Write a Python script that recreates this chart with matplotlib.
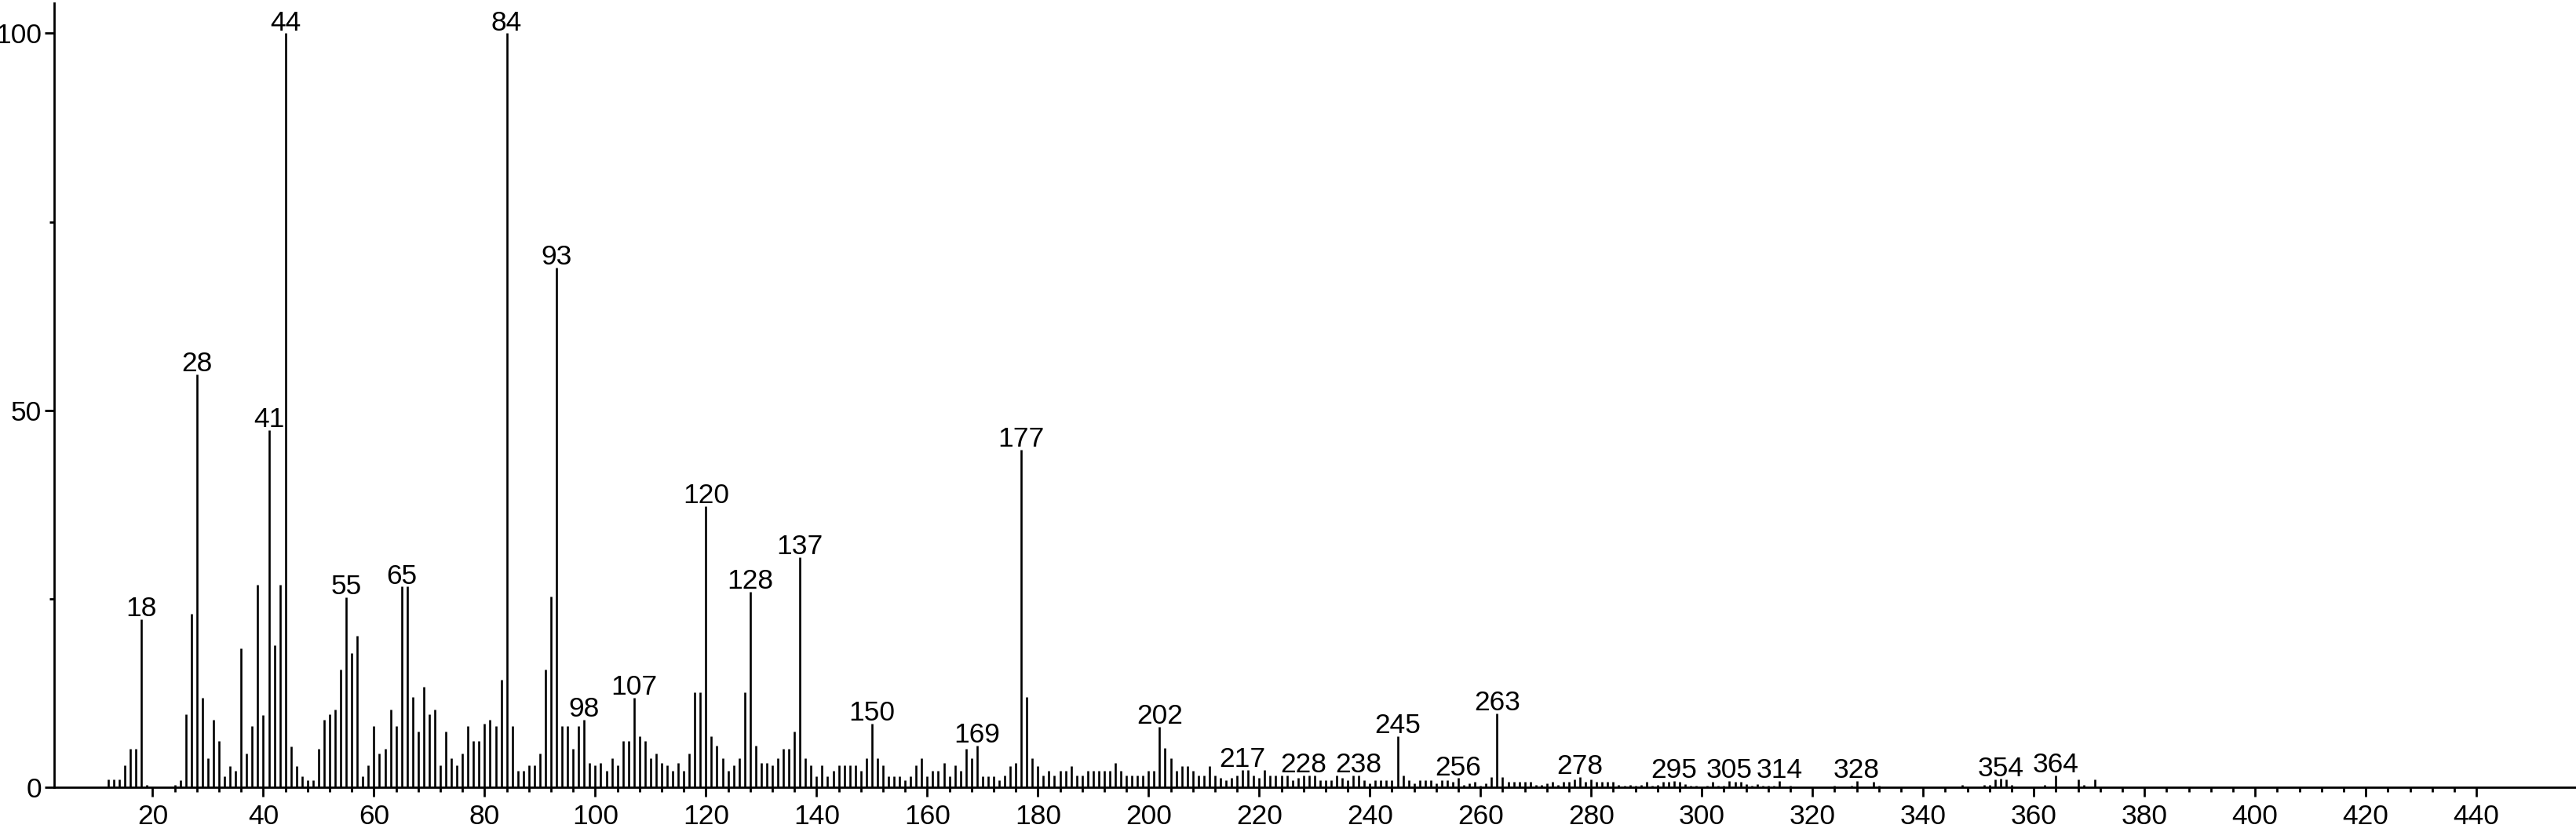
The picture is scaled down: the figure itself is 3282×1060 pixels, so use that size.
import matplotlib
matplotlib.use("Agg")
import matplotlib.pyplot as plt
from matplotlib.ticker import FixedLocator

plt.rcParams['font.family'] = ['Liberation Sans', 'DejaVu Sans']

# m/z values and relative intensities (%)
mz = [12, 13, 14, 15, 16, 17, 18, 19, 24, 25, 26, 27, 28, 29, 30, 31, 32, 33, 34, 35,
      36, 37, 38, 39, 40, 41, 42, 43, 44, 45, 46, 47, 48, 49, 50, 51, 52, 53, 54, 55,
      56, 57, 58, 59, 60, 61, 62, 63, 64, 65, 66, 67, 68, 69, 70, 71, 72, 73, 74, 75,
      76, 77, 78, 79, 80, 81, 82, 83, 84, 85, 86, 87, 88, 89, 90, 91, 92, 93, 94, 95,
      96, 97, 98, 99, 100, 101, 102, 103, 104, 105, 106, 107, 108, 109, 110, 111, 112, 113, 114, 115,
      116, 117, 118, 119, 120, 121, 122, 123, 124, 125, 126, 127, 128, 129, 130, 131, 132, 133, 134, 135,
      136, 137, 138, 139, 140, 141, 142, 143, 144, 145, 146, 147, 148, 149, 150, 151, 152, 153, 154, 155,
      156, 157, 158, 159, 160, 161, 162, 163, 164, 165, 166, 167, 168, 169, 170, 171, 172, 173, 174, 175,
      176, 177, 178, 179, 180, 181, 182, 183, 184, 185, 186, 187, 188, 189, 190, 191, 192, 193, 194, 195,
      196, 197, 198, 199, 200, 201, 202, 203, 204, 205, 206, 207, 208, 209, 210, 211, 212, 213, 214, 215,
      216, 217, 218, 219, 220, 221, 222, 223, 224, 225, 226, 227, 228, 229, 230, 231, 232, 233, 234, 235,
      236, 237, 238, 239, 240, 241, 242, 243, 244, 245, 246, 247, 248, 249, 250, 251, 252, 253, 254, 255,
      256, 257, 258, 259, 260, 261, 262, 263, 264, 265, 266, 267, 268, 269, 270, 271, 272, 273, 274, 275,
      276, 277, 278, 279, 280, 281, 282, 283, 284, 285, 286, 287, 288, 289, 290, 291, 292, 293, 294, 295,
      296, 297, 298, 299, 301, 302, 303, 304, 305, 306, 307, 308, 309, 310, 311, 312, 313, 314, 316, 324,
      327, 328, 331, 332, 347, 351, 352, 353, 354, 355, 356, 362, 364, 368, 369, 371]

intensity = [1.0, 1.0, 1.0, 2.9, 5.1, 5.1, 22.3, 0.3, 0.3, 0.9, 9.7, 23.0, 54.8, 11.9, 3.8, 9.0, 6.1, 1.5, 2.8, 2.2,
             18.4, 4.5, 8.1, 26.9, 9.6, 47.4, 18.8, 26.9, 100.0, 5.4, 2.8, 1.5, 0.9, 0.9, 5.1, 9.0, 9.7, 10.3, 15.6, 25.2,
             17.8, 20.1, 1.5, 2.9, 8.1, 4.5, 5.1, 10.3, 8.1, 26.6, 26.6, 12.0, 7.4, 13.3, 9.7, 10.3, 2.9, 7.4, 3.8, 2.9,
             4.5, 8.1, 6.1, 6.1, 8.4, 9.0, 8.1, 14.3, 100.0, 8.1, 2.2, 2.2, 2.9, 2.9, 4.5, 15.6, 25.3, 68.9, 8.1, 8.1,
             5.1, 8.1, 9.0, 3.2, 2.9, 3.2, 2.2, 3.8, 2.9, 6.1, 6.1, 11.9, 6.8, 6.1, 3.8, 4.5, 3.2, 2.9, 2.2, 3.2,
             2.2, 4.5, 12.6, 12.6, 37.3, 6.8, 5.5, 3.8, 2.2, 2.9, 3.8, 12.6, 25.9, 5.5, 3.2, 3.2, 2.9, 3.8, 5.1, 5.1,
             7.4, 30.5, 3.8, 2.9, 1.5, 2.9, 1.5, 2.2, 2.9, 2.9, 2.9, 2.9, 2.2, 3.8, 8.4, 3.8, 2.9, 1.5, 1.5, 1.5,
             0.9, 1.5, 2.9, 3.8, 1.5, 2.2, 2.2, 3.2, 1.5, 2.9, 2.2, 5.1, 3.8, 5.5, 1.5, 1.5, 1.5, 0.9, 1.6, 2.8,
             3.2, 44.8, 12.0, 3.9, 2.8, 1.6, 2.2, 1.6, 2.2, 2.2, 2.8, 1.6, 1.6, 2.2, 2.2, 2.2, 2.2, 2.2, 3.2, 2.2,
             1.6, 1.6, 1.6, 1.6, 2.2, 2.2, 8.0, 5.2, 3.9, 2.2, 2.8, 2.8, 2.2, 1.6, 1.6, 2.8, 1.6, 1.2, 0.9, 1.2,
             1.6, 2.3, 2.3, 1.6, 1.2, 2.3, 1.6, 1.6, 1.6, 1.6, 0.9, 1.2, 1.6, 1.6, 1.6, 0.9, 0.9, 0.9, 1.6, 1.2,
             0.9, 1.6, 1.6, 0.9, 0.5, 0.9, 0.9, 0.9, 0.9, 6.8, 1.6, 0.9, 0.5, 0.9, 0.9, 0.9, 0.5, 0.9, 0.9, 0.7,
             1.2, 0.3, 0.5, 0.7, 0.2, 0.5, 1.4, 9.8, 1.4, 0.7, 0.7, 0.7, 0.7, 0.7, 0.3, 0.3, 0.5, 0.7, 0.3, 0.7,
             0.7, 1.0, 1.4, 0.7, 1.0, 0.7, 0.7, 0.7, 0.7, 0.3, 0.2, 0.3, 0.2, 0.3, 0.7, 0.2, 0.3, 0.7, 0.7, 0.8,
             0.7, 0.4, 0.2, 0.2, 0.2, 0.7, 0.2, 0.2, 0.8, 0.7, 0.7, 0.4, 0.2, 0.4, 0.2, 0.2, 0.2, 0.8, 0.2, 0.2,
             0.2, 0.8, 0.7, 0.2, 0.3, 0.3, 0.3, 1.0, 1.1, 1.0, 0.3, 0.3, 1.6, 1.0, 0.3, 1.0]

labeled_peaks = [18, 28, 41, 44, 55, 65, 84, 93, 98, 107, 120, 128, 137, 150, 169, 177,
                 202, 217, 228, 238, 245, 256, 263, 278, 295, 305, 314, 328, 354, 364]

x_major = [20, 40, 60, 80, 100, 120, 140, 160, 180, 200, 220, 240, 260, 280, 300,
           320, 340, 360, 380, 400, 420, 440]
y_major = [0, 50, 100]
y_minor = [25, 75]

W, H = 3282, 1060
fig = plt.figure(figsize=(W / 100, H / 100), dpi=100)
ax = fig.add_axes([69 / W, 57 / H, 1 - 69 / W, 999 / H])

ax.vlines(mz, 0, intensity, colors='black', linewidth=1.9)

lookup = dict(zip(mz, intensity))
for m in labeled_peaks:
    ax.annotate(str(m), (m, lookup[m]), xytext=(0, 2.8), textcoords='offset points',
                ha='center', va='baseline', fontsize=25.5, annotation_clip=False)

ax.set_xlim(2.2, 458)
ax.set_ylim(0, 104)

ax.xaxis.set_major_locator(FixedLocator(x_major))
minor_x = [v for v in range(24, 440, 4) if v % 20 != 0]
ax.xaxis.set_minor_locator(FixedLocator(minor_x))
ax.yaxis.set_major_locator(FixedLocator(y_major))
ax.yaxis.set_minor_locator(FixedLocator(y_minor))

for s in ['top', 'right']:
    ax.spines[s].set_visible(False)
for s in ['left', 'bottom']:
    ax.spines[s].set_linewidth(2.0)

ax.tick_params(axis='both', which='major', direction='out', length=8.6, width=2.0,
               labelsize=25.5, color='black')
ax.tick_params(axis='x', which='major', pad=6.5)
ax.tick_params(axis='y', which='major', pad=3)
ax.tick_params(axis='both', which='minor', direction='out', length=4.3, width=2.0)

fig.savefig('out.png', dpi=100)
